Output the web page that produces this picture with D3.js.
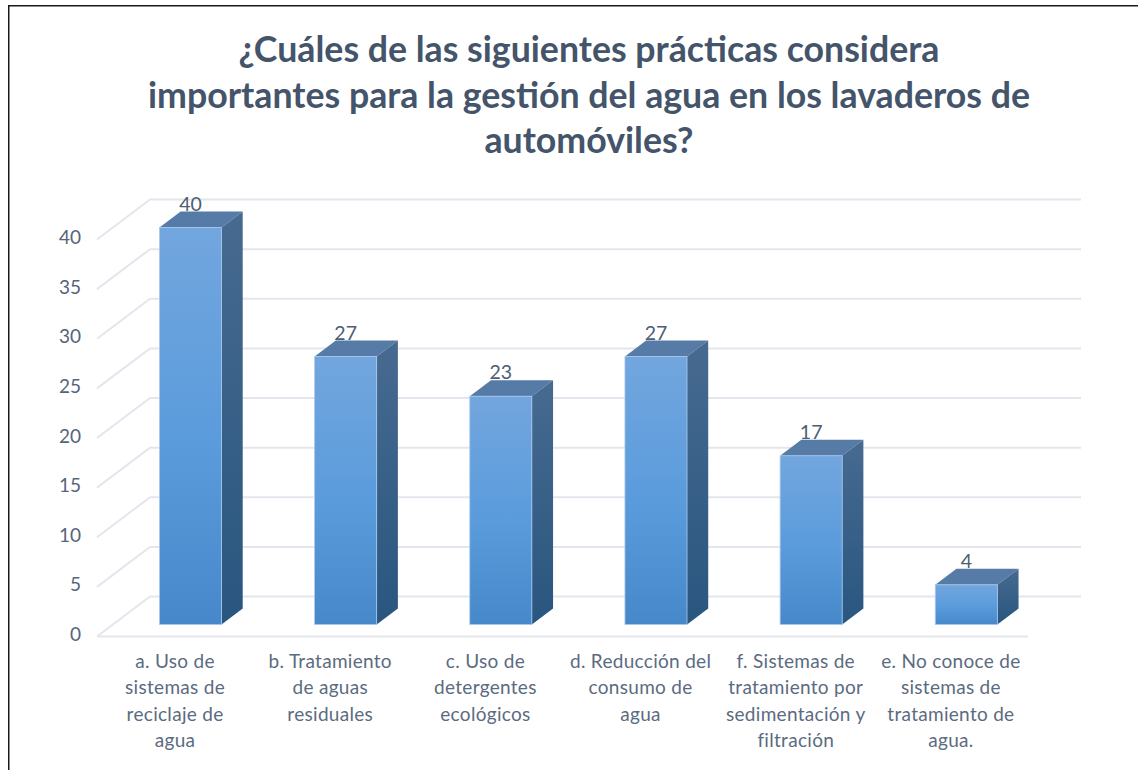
<!DOCTYPE html>
<html>
<head>
<meta charset="utf-8">
<script src="https://cdn.jsdelivr.net/npm/d3@7"></script>
<style>
	html, body { margin: 0; padding: 0; background: #fff; }
	svg { display: block; font-family: Lato, "Open Sans", sans-serif; }
</style>
</head>
<body>
<div id="chart"></div>
<script>
////////////////////////////////////////////////////////////////////////////////////////
//Data
////////////////////////////////////////////////////////////////////////////////////////
const titleLines = [
	"¿Cuáles de las siguientes prácticas considera",
	"importantes para la gestión del agua en los lavaderos de",
	"automóviles?"
];
const categories = [
	["a. Uso de", "sistemas de", "reciclaje de", "agua"],
	["b. Tratamiento", "de aguas", "residuales"],
	["c. Uso de", "detergentes", "ecológicos"],
	["d. Reducción del", "consumo de", "agua"],
	["f. Sistemas de", "tratamiento por", "sedimentación y", "filtración"],
	["e. No conoce de", "sistemas de", "tratamiento de", "agua."]
];
const values = [40, 27, 23, 27, 17, 4];
const yTicks = [0, 5, 10, 15, 20, 25, 30, 35, 40];

////////////////////////////////////////////////////////////////////////////////////////
//Layout
////////////////////////////////////////////////////////////////////////////////////////
const width = 1138, height = 770;
const depthX = 53, depthY = -40; // oblique offset of the floor depth

const x = d3.scaleBand().domain(d3.range(categories.length)).range([97, 1028]).paddingInner(0).paddingOuter(0);
const y = d3.scaleLinear().domain([0, 40]).range([636.5, 239.5]);

// z goes 0 (front) .. 1 (back wall)
function px(xv, z) { return xv + depthX * z; }
function py(v, z) { return y(v) + depthY * z; }

const barFrontZ = 0.3, barBackZ = 0.7;
const barWidth = x.bandwidth() * 0.4;

const svg = d3.select("#chart").append("svg").attr("width", width).attr("height", height);
const defs = svg.append("defs");

function addGradient(id, stops) {
	const g = defs.append("linearGradient").attr("id", id)
		.attr("x1", 0).attr("y1", 0).attr("x2", 0).attr("y2", 1);
	stops.forEach(function (s) {
		g.append("stop").attr("offset", s[0]).attr("stop-color", s[1]);
	});
}
addGradient("frontFill", [[0, "#72a6de"], [0.55, "#5a9bdc"], [1, "#4688c9"]]);
addGradient("sideFill", [[0, "#476a90"], [1, "#29567f"]]);

svg.append("rect").attr("width", width).attr("height", height).attr("fill", "#fff");

// outer border
svg.append("path")
	.attr("d", d3.line()([[8.75, height], [8.75, 5.75], [width, 5.75]]))
	.attr("fill", "none").attr("stroke", "#1a1a1a").attr("stroke-width", 1.5);

////////////////////////////////////////////////////////////////////////////////////////
//Title
////////////////////////////////////////////////////////////////////////////////////////
svg.append("g").selectAll("text").data(titleLines).join("text")
	.attr("x", 589)
	.attr("y", function (d, i) { return 62 + i * 45.5; })
	.attr("text-anchor", "middle")
	.attr("font-size", 35.7)
	.attr("font-weight", 700)
	.attr("fill", "#44546a")
	.text(function (d) { return d; });

////////////////////////////////////////////////////////////////////////////////////////
//Grid
////////////////////////////////////////////////////////////////////////////////////////
const grid = svg.append("g").attr("fill", "none").attr("stroke", "#e4e6ee").attr("stroke-width", 2);
const xLeft = x.range()[0], xRight = x.range()[1];

yTicks.forEach(function (t) {
	grid.append("path").attr("d", d3.line()([
		[px(xLeft, 0), py(t, 0)],
		[px(xLeft, 1), py(t, 1)],
		[px(xRight, 1), py(t, 1)]
	]));
});
grid.append("path").attr("d", d3.line()([[px(xLeft, 0), py(0, 0)], [px(xRight, 0), py(0, 0)]]));

////////////////////////////////////////////////////////////////////////////////////////
//Y axis
////////////////////////////////////////////////////////////////////////////////////////
const yAxis = d3.axisLeft(y).tickValues(yTicks).tickSize(0).tickPadding(0);
const yAxisG = svg.append("g").attr("transform", "translate(81,-2)").call(yAxis);
yAxisG.select(".domain").remove();
yAxisG.selectAll("text")
	.attr("font-family", "Lato, 'Open Sans', sans-serif")
	.attr("font-size", 19)
	.attr("fill", "#556579");

////////////////////////////////////////////////////////////////////////////////////////
//Bars
////////////////////////////////////////////////////////////////////////////////////////
const bars = svg.append("g").selectAll("g").data(values).join("g");

function barLeft(i) { return x(i) + (x.bandwidth() - barWidth) / 2; }

// top face
bars.append("path")
	.attr("fill", "#557ba6")
	.attr("d", function (d, i) {
		const l = barLeft(i), r = l + barWidth;
		return d3.line()([
			[px(l, barFrontZ), py(d, barFrontZ)],
			[px(r, barFrontZ), py(d, barFrontZ)],
			[px(r, barBackZ), py(d, barBackZ)],
			[px(l, barBackZ), py(d, barBackZ)]
		]) + "Z";
	});

// side face
bars.append("path")
	.attr("fill", "url(#sideFill)")
	.attr("d", function (d, i) {
		const r = barLeft(i) + barWidth;
		return d3.line()([
			[px(r, barFrontZ), py(d, barFrontZ)],
			[px(r, barBackZ), py(d, barBackZ)],
			[px(r, barBackZ), py(0, barBackZ)],
			[px(r, barFrontZ), py(0, barFrontZ)]
		]) + "Z";
	});

// front face
bars.append("rect")
	.attr("x", function (d, i) { return px(barLeft(i), barFrontZ); })
	.attr("y", function (d) { return py(d, barFrontZ); })
	.attr("width", barWidth)
	.attr("height", function (d) { return y(0) - y(d); })
	.attr("fill", "url(#frontFill)")
	.attr("stroke", "#a9c9ec")
	.attr("stroke-width", 0.8);

// data labels
bars.append("text")
	.attr("x", function (d, i) { return px(barLeft(i), barFrontZ) + barWidth / 2; })
	.attr("y", function (d) { return py(d, barFrontZ) - 17; })
	.attr("text-anchor", "middle")
	.attr("font-size", 19.5)
	.attr("fill", "#4d5d72")
	.text(function (d) { return d; });

////////////////////////////////////////////////////////////////////////////////////////
//Category labels
////////////////////////////////////////////////////////////////////////////////////////
const catGroups = svg.append("g").selectAll("text").data(categories).join("text")
	.attr("text-anchor", "middle")
	.attr("font-size", 19)
	.attr("letter-spacing", 0.3)
	.attr("fill", "#5b6b80");

catGroups.selectAll("tspan").data(function (d, i) {
	return d.map(function (line, n) { return {line: line, n: n, i: i}; });
}).join("tspan")
	.attr("x", function (d) { return x(d.i) + x.bandwidth() / 2 + 0.5; })
	.attr("y", function (d) { return 668 + d.n * 26.3; })
	.text(function (d) { return d.line; });
</script>
</body>
</html>
